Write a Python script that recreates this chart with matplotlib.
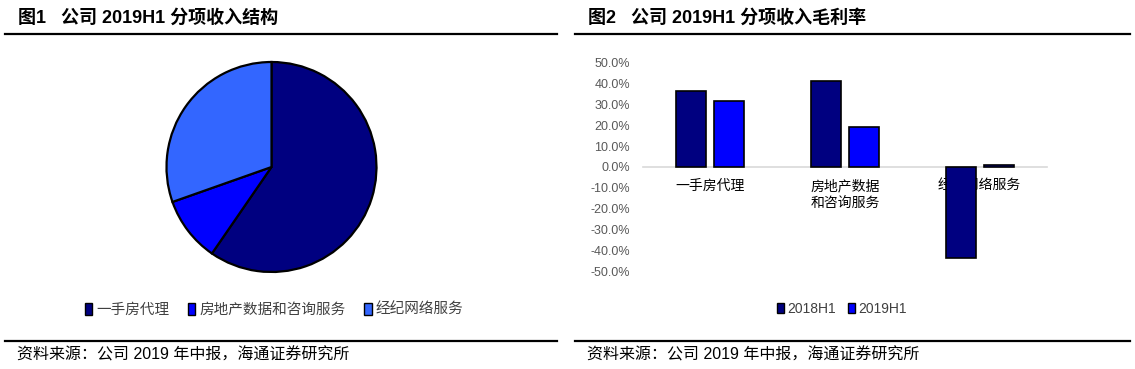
import matplotlib
matplotlib.use('Agg')
import matplotlib.pyplot as plt
import numpy as np
from matplotlib.lines import Line2D

plt.rcParams['font.family'] = ['Liberation Sans', 'Noto Sans CJK SC', 'DejaVu Sans']

# ---------------- data ----------------
pie_title = '图1   公司 2019H1 分项收入结构'
bar_title = '图2   公司 2019H1 分项收入毛利率'
source_text = '资料来源：公司 2019 年中报，海通证券研究所'

pie_labels = ['一手房代理', '房地产数据和咨询服务', '经纪网络服务']
pie_values = [59.6, 10.0, 30.4]
pie_colors = ['#000080', '#0000FF', '#3366FF']

bar_categories = ['一手房代理', '房地产数据\n和咨询服务', '经纪网络服务']
series_names = ['2018H1', '2019H1']
margin_2018 = [36.2, 41.3, -43.8]
margin_2019 = [31.6, 18.9, 1.0]
bar_colors = ['#000080', '#0000FF']
y_ticks = [50, 40, 30, 20, 10, 0, -10, -20, -30, -40, -50]

# ---------------- figure ----------------
W, H = 1135, 369
fig = plt.figure(figsize=(W / 100, H / 100), dpi=100)


def fx(px):
    return px / W


def fy(py):
    return 1 - py / H


# titles, rules, sources
for x0, x1, tx, title in [(5, 557, 18, pie_title), (575, 1130, 588, bar_title)]:
    fig.text(fx(tx), fy(18), title, fontsize=13, fontweight='bold',
             ha='left', va='center', color='black')
    fig.add_artist(Line2D([fx(x0), fx(x1)], [fy(33.5)] * 2, color='black', lw=1.6))
    fig.add_artist(Line2D([fx(x0), fx(x1)], [fy(341)] * 2, color='black', lw=1.6))
    fig.text(fx(tx - 1), fy(355), source_text, fontsize=11.5, ha='left', va='center',
             color='black')

# ---------------- pie ----------------
cx, cy, r = 271.5, 167, 105
pad = 2
ax1 = fig.add_axes([fx(cx - r - pad), fy(cy + r + pad), (2 * (r + pad)) / W, (2 * (r + pad)) / H])
wedges, _ = ax1.pie(pie_values, colors=pie_colors, startangle=90, counterclock=False,
                    wedgeprops=dict(edgecolor='black', linewidth=1.6), radius=1)
lim = (r + pad) / r
ax1.set_xlim(-lim, lim)
ax1.set_ylim(-lim, lim)
leg1 = ax1.legend(wedges, pie_labels, loc='center', bbox_to_anchor=(fx(274), fy(310)),
                  bbox_transform=fig.transFigure, ncol=3, frameon=False,
                  handlelength=0.5, handleheight=0.8, handletextpad=0.25,
                  columnspacing=1.3, fontsize=10.5, labelcolor='#404040')
for h in leg1.legend_handles:
    h.set_linewidth(1.0)

# ---------------- bars ----------------
ax2 = fig.add_axes([fx(643), fy(271), (1047 - 643) / W, (271 - 62.7) / H])
x = np.arange(len(bar_categories))
w = 0.223
off = 0.141
ax2.bar(x - off, margin_2018, width=w, color=bar_colors[0], edgecolor='black',
        linewidth=1.2, label=series_names[0], zorder=3)
ax2.bar(x + off, margin_2019, width=w, color=bar_colors[1], edgecolor='black',
        linewidth=1.2, label=series_names[1], zorder=3)
ax2.set_xlim(-0.5, len(bar_categories) - 0.5)
ax2.set_ylim(-50, 50)
ax2.set_yticks(y_ticks)
ax2.set_yticklabels([f'{v:.1f}%' for v in y_ticks])
ax2.set_xticks(x)
ax2.set_xticklabels(bar_categories, fontsize=9.5, color='#595959', linespacing=1.85,
                    va='top')
for s in ['top', 'right', 'left']:
    ax2.spines[s].set_visible(False)
ax2.spines['bottom'].set_position(('data', 0))
ax2.spines['bottom'].set_color('#d9d9d9')
ax2.spines['bottom'].set_linewidth(1.2)
ax2.spines['bottom'].set_zorder(2)
ax2.tick_params(axis='y', length=0, pad=9.4, labelsize=9, labelcolor='#595959')
ax2.tick_params(axis='x', length=0, pad=9.0)
leg2 = ax2.legend(loc='center', bbox_to_anchor=(fx(842), fy(309)),
                  bbox_transform=fig.transFigure, ncol=2, frameon=False,
                  handlelength=0.5, handleheight=0.8, handletextpad=0.25,
                  columnspacing=0.9, fontsize=10, labelcolor='#404040')
for h in leg2.legend_handles:
    h.set_linewidth(1.0)

fig.savefig('out.png', dpi=100)
